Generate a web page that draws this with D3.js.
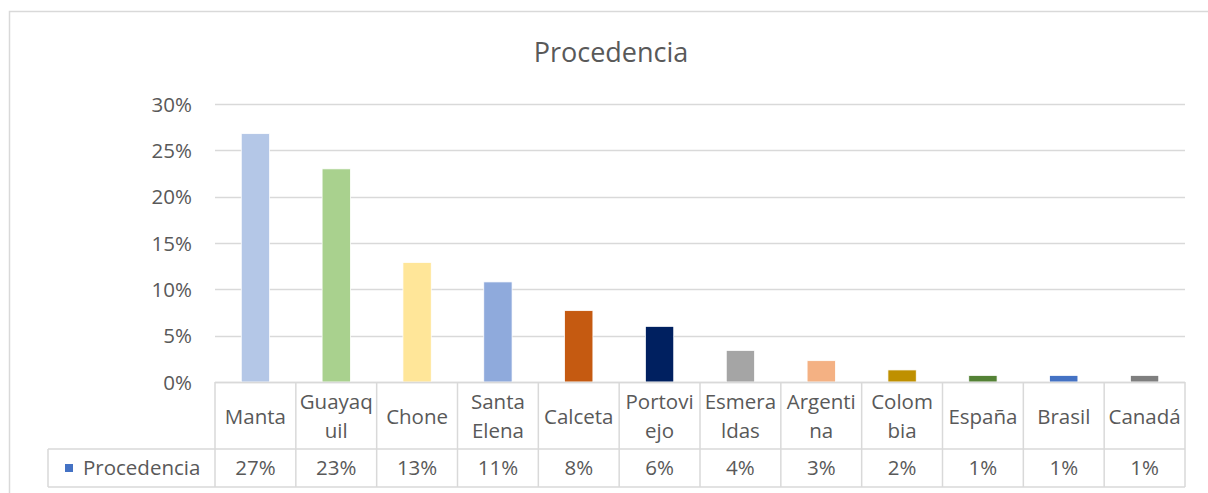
<!DOCTYPE html>
<html>
<head>
  <meta charset="utf-8">
  <script src="https://d3js.org/d3.v7.min.js"></script>
  <style type="text/css">
  body{
    margin: 0;
    background: #fff;
  }
  svg{
    display: block;
    font-family: "Open Sans", sans-serif;
  }
  .yaxis path, .yaxis line {
    display: none;
  }
  .yaxis text{
    fill: #595959;
    font-family: "Open Sans", sans-serif;
    font-size: 20.5px;
  }
  </style>
</head>
<body>
  <script type="text/javascript">
    // data
    var categories = ["Manta", "Guayaquil", "Chone", "Santa Elena", "Calceta", "Portoviejo",
                      "Esmeraldas", "Argentina", "Colombia", "España", "Brasil", "Canadá"];
    // how the labels break inside the data table
    var categoryLines = [["Manta"], ["Guayaq", "uil"], ["Chone"], ["Santa", "Elena"], ["Calceta"],
                         ["Portovi", "ejo"], ["Esmera", "ldas"], ["Argenti", "na"], ["Colom", "bia"],
                         ["España"], ["Brasil"], ["Canadá"]];
    var values = [0.268, 0.230, 0.129, 0.108, 0.077, 0.060, 0.034, 0.023, 0.013, 0.007, 0.007, 0.007];
    var tableLabels = ["27%", "23%", "13%", "11%", "8%", "6%", "4%", "3%", "2%", "1%", "1%", "1%"];
    var barColors = ["#b4c7e7", "#a9d18e", "#ffe699", "#8faadc", "#c55a11", "#002060",
                     "#a5a5a5", "#f4b183", "#bf9000", "#548235", "#4472c4", "#7f7f7f"];
    var yTicks = [0, 0.05, 0.10, 0.15, 0.20, 0.25, 0.30];
    var seriesName = "Procedencia";

    var width = 1208, height = 493;
    var plot = {left: 215, right: 1185, top: 104, bottom: 382};
    var table = {left: 48, headBottom: 449, bottom: 487};
    var grey = "#d9d9d9", txt = "#595959", fs = "20.5px";

    var svg = d3.select("body")
      .append("svg")
      .attr("width", width)
      .attr("height", height);

    // chart frame
    svg.append("rect")
      .attr("x", 9.5)
      .attr("y", 11.5)
      .attr("width", 1250)
      .attr("height", 600)
      .attr("fill", "none")
      .attr("stroke", grey)
      .attr("stroke-width", 1.5);

    svg.append("text")
      .attr("x", 611)
      .attr("y", 62)
      .attr("text-anchor", "middle")
      .attr("fill", txt)
      .style("font-size", "27px")
      .text(seriesName);

    var x = d3.scaleBand()
      .domain(categories)
      .range([plot.left, plot.right])
      .padding(0);

    var y = d3.scaleLinear()
      .domain([0, 0.30])
      .range([plot.bottom, plot.top]);

    // gridlines
    svg.append("g")
      .selectAll("line")
      .data(yTicks)
      .enter().append("line")
      .attr("x1", plot.left)
      .attr("x2", plot.right)
      .attr("y1", function(d) { return Math.round(y(d)) + 0.5; })
      .attr("y2", function(d) { return Math.round(y(d)) + 0.5; })
      .attr("stroke", grey)
      .attr("stroke-width", 1.5);

    var yAxis = d3.axisLeft(y)
      .tickValues(yTicks)
      .tickSize(0)
      .tickPadding(0)
      .tickFormat(d3.format(".0%"));

    svg.append("g")
      .attr("class", "yaxis")
      .attr("transform", "translate(192,0)")
      .call(yAxis)
      .attr("font-family", null)
      .attr("font-size", null)
      .selectAll("text")
      .attr("dy", "0.35em");

    // bars
    var barW = x.bandwidth() * 0.35;
    svg.append("g")
      .selectAll("rect")
      .data(values)
      .enter().append("rect")
      .attr("x", function(d, i) { return x(categories[i]) + (x.bandwidth() - barW) / 2; })
      .attr("y", function(d) { return y(d); })
      .attr("width", barW)
      .attr("height", function(d) { return y(0) - y(d); })
      .attr("fill", function(d, i) { return barColors[i]; })
      .attr("stroke", "#fff")
      .attr("stroke-width", 0.75);

    // data table
    var tg = svg.append("g").attr("stroke", grey).attr("stroke-width", 1.5).attr("fill", "none");
    tg.append("line").attr("x1", plot.left).attr("x2", plot.right).attr("y1", plot.bottom + 0.5).attr("y2", plot.bottom + 0.5);
    tg.append("line").attr("x1", table.left).attr("x2", plot.right).attr("y1", table.headBottom).attr("y2", table.headBottom);
    tg.append("line").attr("x1", table.left).attr("x2", plot.right).attr("y1", table.bottom).attr("y2", table.bottom);
    tg.append("line").attr("x1", table.left).attr("x2", table.left).attr("y1", table.headBottom).attr("y2", table.bottom);
    var edges = categories.map(function(c) { return x(c); }).concat([plot.right]);
    tg.selectAll(".vline")
      .data(edges)
      .enter().append("line")
      .attr("x1", function(d) { return d; })
      .attr("x2", function(d) { return d; })
      .attr("y1", plot.bottom)
      .attr("y2", table.bottom);

    var head = svg.append("g")
      .selectAll("text")
      .data(categoryLines)
      .enter().append("text")
      .attr("text-anchor", "middle")
      .attr("fill", txt)
      .style("font-size", fs)
      .attr("x", function(d, i) { return x(categories[i]) + x.bandwidth() / 2; })
      .attr("y", function(d) { return d.length > 1 ? 409 : 424; });

    head.selectAll("tspan")
      .data(function(d) { return d; })
      .enter().append("tspan")
      .attr("x", function() { return d3.select(this.parentNode).attr("x"); })
      .attr("dy", function(d, i) { return i === 0 ? 0 : 29; })
      .text(function(d) { return d; });

    svg.append("g")
      .selectAll("text")
      .data(tableLabels)
      .enter().append("text")
      .attr("text-anchor", "middle")
      .attr("fill", txt)
      .style("font-size", fs)
      .attr("x", function(d, i) { return x(categories[i]) + x.bandwidth() / 2; })
      .attr("y", 475)
      .text(function(d) { return d; });

    // legend key in the table
    svg.append("rect")
      .attr("x", 65)
      .attr("y", 464)
      .attr("width", 8)
      .attr("height", 8)
      .attr("fill", "#4472c4");

    svg.append("text")
      .attr("x", 83)
      .attr("y", 475)
      .attr("fill", txt)
      .style("font-size", fs)
      .text(seriesName);
  </script>
</body>
</html>
